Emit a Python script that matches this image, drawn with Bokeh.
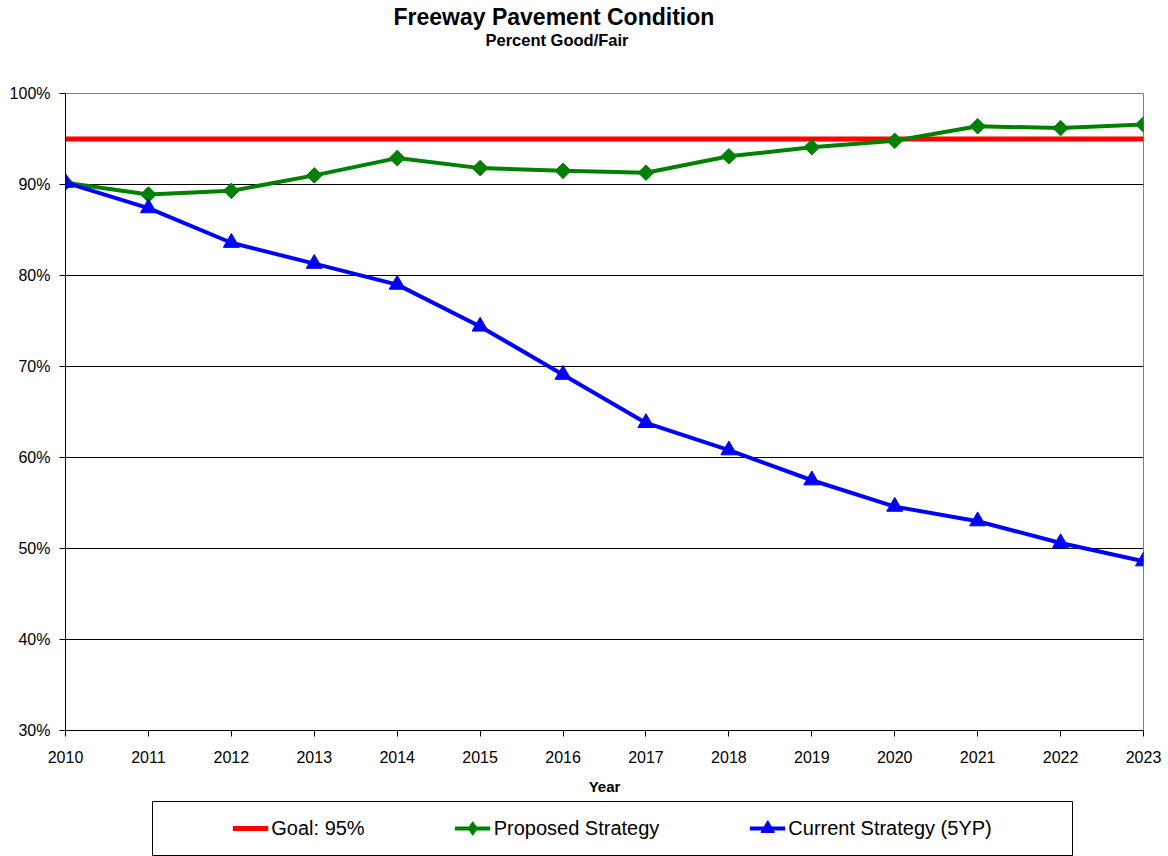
from bokeh.plotting import figure
from bokeh.models import Range1d, FixedTicker, PrintfTickFormatter, Title, Legend, LegendItem
from bokeh.layouts import column
from bokeh.embed import file_html
from bokeh.resources import INLINE
from math import pi

years = [2010, 2011, 2012, 2013, 2014, 2015, 2016, 2017, 2018, 2019, 2020, 2021, 2022, 2023]
goal = [95, 95, 95, 95, 95, 95, 95, 95, 95, 95, 95, 95, 95, 95]
proposed = [90.2, 88.9, 89.3, 91.0, 92.9, 91.8, 91.5, 91.3, 93.1, 94.1, 94.8, 96.4, 96.2, 96.6]
current = [90.2, 87.4, 83.6, 81.3, 79.0, 74.4, 69.1, 63.8, 60.8, 57.5, 54.6, 53.0, 50.6, 48.6]
y_ticks = [30, 40, 50, 60, 70, 80, 90, 100]
grid_ticks = [40, 50, 60, 70, 80, 90]

FONT = "Liberation Sans"
RED, GREEN, BLUE = "#FF0000", "#008000", "#0000FF"

p = figure(frame_width=1078, frame_height=637,
           x_range=Range1d(2010, 2023), y_range=Range1d(30, 100),
           output_backend="svg", toolbar_location=None,
           min_border_left=65, min_border_top=93, min_border_bottom=68, min_border_right=25)
p.outline_line_color = "#808080"
p.outline_line_width = 1
p.xgrid.visible = False
p.ygrid.ticker = FixedTicker(ticks=grid_ticks)
p.ygrid.grid_line_color = "black"
p.ygrid.grid_line_width = 1

p.yaxis.ticker = FixedTicker(ticks=y_ticks)
p.yaxis.formatter = PrintfTickFormatter(format="%d%%")
p.xaxis.ticker = FixedTicker(ticks=years)
for ax in (p.xaxis[0], p.yaxis[0]):
    ax.axis_line_color = "black"
    ax.axis_line_width = 1
    ax.major_tick_line_color = "black"
    ax.major_tick_out = 6
    ax.major_tick_in = 0
    ax.minor_tick_line_color = None
    ax.major_label_text_font = FONT
    ax.major_label_text_font_size = "16px"
    ax.major_label_text_color = "black"
p.xaxis.major_label_standoff = 14
p.yaxis.major_label_standoff = 9
p.xaxis.axis_label = "Year"
p.xaxis.axis_label_text_font = FONT
p.xaxis.axis_label_text_font_style = "bold"
p.xaxis.axis_label_text_font_size = "15px"
p.xaxis.axis_label_text_color = "black"
p.xaxis.axis_label_standoff = 12

p.line(years, goal, line_color=RED, line_width=5)
p.line(years, proposed, line_color=GREEN, line_width=4)
p.scatter(years, proposed, marker="square", angle=pi / 4, size=11,
          fill_color=GREEN, line_color=GREEN)
p.line(years, current, line_color=BLUE, line_width=4)
p.scatter(years, current, marker="triangle", size=16,
          fill_color=BLUE, line_color=BLUE)

# spacer between the frame and the subtitle
p.add_layout(Title(text=" ", standoff=41, text_font=FONT, text_font_size="1px"), "above")
p.add_layout(Title(text="Percent Good/Fair", align="left", offset=420, standoff=2,
                   text_font=FONT, text_font_style="bold", text_font_size="16.5px",
                   text_color="black"), "above")
p.add_layout(Title(text="Freeway Pavement Condition", align="left", offset=328, standoff=-4,
                   text_font=FONT, text_font_style="bold", text_font_size="23px",
                   text_color="black"), "above")

# legend box as its own small figure
leg = figure(width=1010, height=56, x_range=Range1d(0, 1), y_range=Range1d(0, 1),
             x_axis_type=None, y_axis_type=None,
             output_backend="svg", toolbar_location=None, min_border=1)
leg.outline_line_color = "black"
leg.outline_line_width = 1
leg.grid.visible = False
g1 = leg.line(years, goal, line_color=RED, line_width=5)
g2 = leg.line(years, proposed, line_color=GREEN, line_width=4)
g2m = leg.scatter(years, proposed, marker="diamond", size=15,
                  fill_color=GREEN, line_color=GREEN)
g3 = leg.line(years, current, line_color=BLUE, line_width=4)
g3m = leg.scatter(years, current, marker="triangle", size=14,
                  fill_color=BLUE, line_color=BLUE)
legend = Legend(items=[LegendItem(label="Goal: 95%", renderers=[g1]),
                       LegendItem(label="Proposed Strategy", renderers=[g2, g2m]),
                       LegendItem(label="Current Strategy (5YP)", renderers=[g3, g3m])],
                orientation="horizontal", location="center",
                border_line_color=None, background_fill_alpha=0,
                padding=0, spacing=90, glyph_width=36, glyph_height=34,
                label_standoff=3, label_text_font=FONT, label_text_font_size="20px",
                label_text_color="black")
leg.add_layout(legend, "center")
leg.margin = (2, 0, 0, 87)

layout = column(p, leg)
open("out.html", "w").write(file_html(layout, INLINE))
